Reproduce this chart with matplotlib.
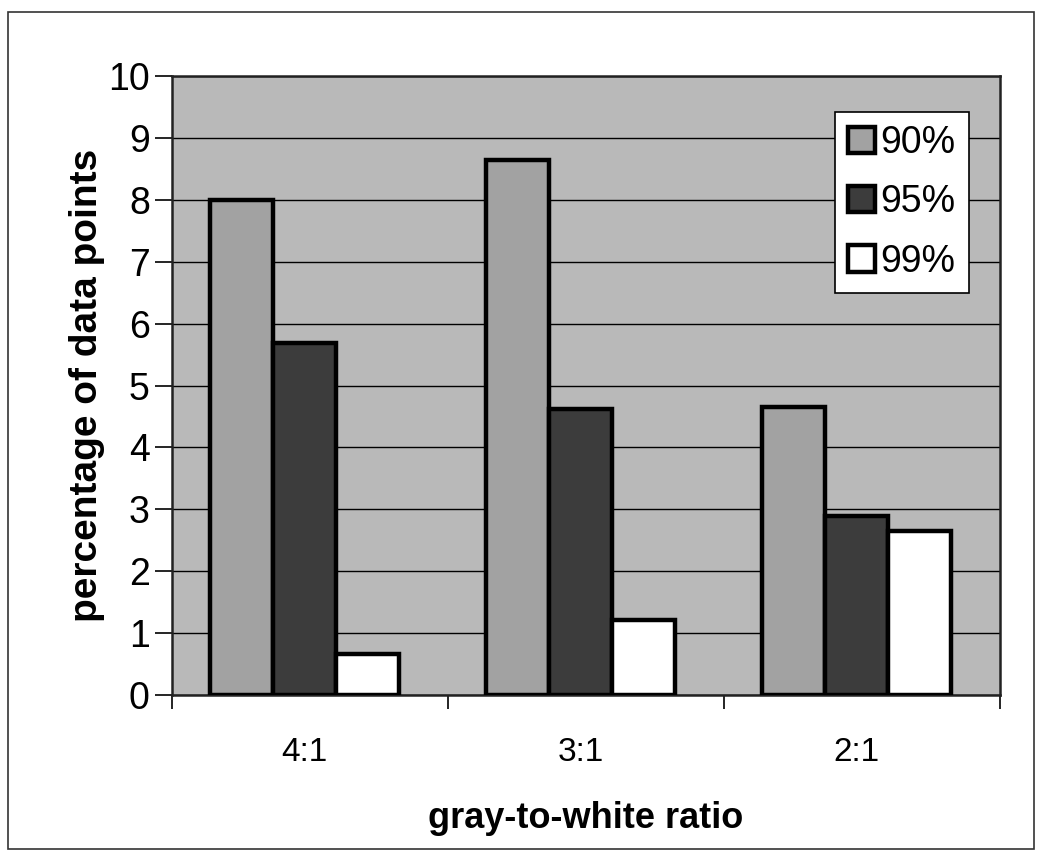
import numpy as np
import matplotlib
matplotlib.use("Agg")
import matplotlib.pyplot as plt
from matplotlib.patches import Rectangle

plt.rcParams["font.family"] = ["Liberation Sans", "DejaVu Sans"]

# --- dane ---
ratios = ["4:1", "3:1", "2:1"]
levels = ["90%", "95%", "99%"]
pct_90 = [8.0, 8.65, 4.65]
pct_95 = [5.68, 4.62, 2.9]
pct_99 = [0.67, 1.22, 2.65]
y_ticks = list(range(0, 11))

series = [pct_90, pct_95, pct_99]
colors = ["#a2a2a2", "#3c3c3c", "#ffffff"]

fig = plt.figure(figsize=(10.38, 8.65), dpi=100)
fig.patch.set_facecolor("white")

# ramka wokół całego wykresu
fig.patches.append(Rectangle((0.008, 0.018), 0.988, 0.968, transform=fig.transFigure,
                             fill=False, edgecolor="#333333", linewidth=1.2))

ax = fig.add_axes([0.1657, 0.1965, 0.7977, 0.7156])
ax.set_facecolor("#b9b9b9")

x = np.arange(1, len(ratios) + 1)
w = 0.228
for i, (vals, c, lab) in enumerate(zip(series, colors, levels)):
    ax.bar(x + (i - 1) * w - 0.02, vals, width=w, color=c, edgecolor="black",
           linewidth=3.2, label=lab, zorder=3)

ax.set_xlim(0.5, 3.5)
ax.set_ylim(0, 10)
ax.set_yticks(y_ticks)
ax.yaxis.grid(True, color="black", linewidth=1.0, zorder=1)
ax.set_axisbelow(True)

# etykiety kategorii na środku, kreski na granicach grup
ax.set_xticks([0.5, 1.5, 2.5, 3.5])
ax.set_xticklabels([])
ax.set_xticks(x - 0.02, minor=True)
ax.set_xticklabels(ratios, minor=True)
ax.tick_params(axis="x", which="major", length=10, width=1.2, direction="out")
ax.tick_params(axis="x", which="minor", length=0, pad=30, labelsize=24)
ax.tick_params(axis="y", length=12, width=1.2, direction="out", pad=4, labelsize=27)

for s in ax.spines.values():
    s.set_color("#222222")
    s.set_linewidth(1.8)

ax.set_ylabel("percentage of data points", fontsize=28, fontweight="bold", labelpad=2)
ax.set_xlabel("gray-to-white ratio", fontsize=26, fontweight="bold", labelpad=24)

leg = ax.legend(loc="upper right", bbox_to_anchor=(0.962, 0.942), fontsize=27,
                frameon=True, fancybox=False, framealpha=1, edgecolor="black",
                handlelength=0.7, handleheight=0.7, handletextpad=0.15,
                labelspacing=0.62, borderpad=0.35, borderaxespad=0)
leg.get_frame().set_linewidth(1.2)
for h in leg.legend_handles:
    h.set_linewidth(3.2)

fig.savefig("out.png", dpi=100)
